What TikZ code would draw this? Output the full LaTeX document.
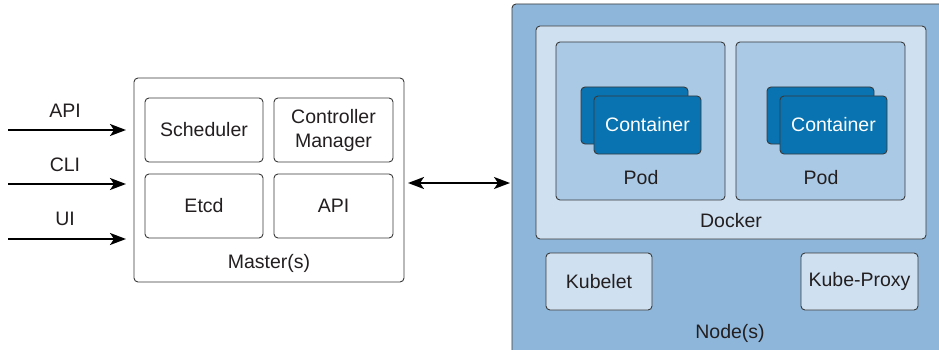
\documentclass[tikz,border=0pt]{standalone}
\usepackage{fontspec}
\setmainfont{Liberation Sans}
\usetikzlibrary{arrows.meta}
\definecolor{nodebg}{HTML}{8DB6DA}
\definecolor{lightbg}{HTML}{CFE0F1}
\definecolor{podbg}{HTML}{A9C9E5}
\definecolor{contbg}{HTML}{0873B0}
\definecolor{ink}{HTML}{231F20}
\definecolor{edge}{HTML}{3A3A3A}
\begin{document}
\begin{tikzpicture}[x=1pt,y=-1pt,
  every node/.style={font=\fontsize{19.5}{24}\selectfont, text=ink},
  box/.style={draw=edge, line width=0.9pt, rounded corners=4pt},
  lbl/.style={inner sep=0pt, anchor=center},
  tip/.tip={Stealth[length=16pt,width=12pt,inset=4pt]},
  arr/.style={line width=2pt, -tip},
  darr/.style={line width=2pt, tip-tip}]
\useasboundingbox (0,0) rectangle (939,350);
\clip (0,0) rectangle (939,350);
\fill[white] (0,0) rectangle (939,350);
% Master
\draw[box, fill=white] (134,78) rectangle (404,282);
\node[box, fill=white, minimum width=118pt, minimum height=64pt, align=center] (sched) at (204,130) {Scheduler};
\node[box, fill=white, minimum width=119pt, minimum height=64pt, align=center] (ctrl) at (333.5,130) {Controller\\Manager};
\node[box, fill=white, minimum width=118pt, minimum height=64pt] (etcd) at (204,206) {Etcd};
\node[box, fill=white, minimum width=119pt, minimum height=64pt] (mapi) at (333.5,206) {API};
\node[lbl] (mlabel) at (269,263) {Master(s)};
% inputs
\coordinate (a1) at (8,130);
\coordinate (a2) at (8,184);
\coordinate (a3) at (8,239);
\coordinate (b1) at (126,130);
\coordinate (b2) at (126,184);
\coordinate (b3) at (126,239);
\draw[arr] (a1) -- (b1);
\draw[arr] (a2) -- (b2);
\draw[arr] (a3) -- (b3);
\node[lbl] (tapi) at (65,111) {API};
\node[lbl] (tcli) at (65,165) {CLI};
\node[lbl] (tui) at (65,219) {UI};
% Node
\draw[box, fill=nodebg] (512,4) rectangle (960,370);
\coordinate (nodeL) at (510,183);
\coordinate (masterR) at (408,183);
\draw[darr] (masterR) -- (nodeL);
\draw[box, fill=lightbg] (536,26) rectangle (926,239);
\node[lbl] (docker) at (731,221) {Docker};
\foreach \px/\cx/\nm in {556/581/p1, 736/767/p2}{
  \draw[box, fill=podbg] (\px,42) rectangle ++(169,158);
  \draw[box, fill=contbg] (\cx,87) rectangle ++(107,57);
  \node[box, fill=contbg, minimum width=107pt, minimum height=58pt, text=white] (\nm c) at (\cx+66.5,125) {Container};
  \node[lbl] (\nm) at (\px+85,178) {Pod};
}
\node[box, fill=lightbg, minimum width=106pt, minimum height=57pt] (kubelet) at (599,281.5) {Kubelet};
\node[box, fill=lightbg, minimum width=117pt, minimum height=57pt] (proxy) at (859.5,281.5) {Kube-Proxy};
\node[lbl] (nlabel) at (730,333) {Node(s)};
\end{tikzpicture}
\end{document}
